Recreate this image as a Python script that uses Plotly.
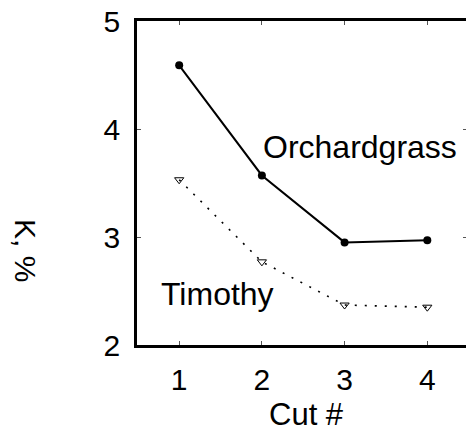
import plotly.graph_objects as go

cuts = [1, 2, 3, 4]
orchardgrass = [4.59, 3.57, 2.95, 2.97]
timothy = [3.53, 2.77, 2.37, 2.35]
x_ticks = [1, 2, 3, 4]
y_ticks = [2, 3, 4, 5]

FONT = "Liberation Sans, Arial, sans-serif"

fig = go.Figure()
fig.add_trace(go.Scatter(
    x=cuts, y=timothy, mode="lines+markers",
    line=dict(color="black", width=1.6, dash="2px,8px"),
    marker=dict(symbol="triangle-down-open", size=8, color="black", line=dict(width=1)),
    showlegend=False, cliponaxis=False))
fig.add_trace(go.Scatter(
    x=cuts, y=orchardgrass, mode="lines+markers",
    line=dict(color="black", width=2),
    marker=dict(symbol="circle", size=8, color="black"),
    showlegend=False, cliponaxis=False))

fig.update_layout(
    width=472, height=427,
    margin=dict(l=137, r=2, t=21, b=82),
    plot_bgcolor="white", paper_bgcolor="white",
    font=dict(family=FONT, color="black", size=30),
    xaxis=dict(range=[0.49, 4.48], tickvals=x_ticks, ticks="inside", ticklen=4,
               tickwidth=1, tickcolor="#555", showline=True, linecolor="black",
               linewidth=2.5, mirror="ticks", showgrid=False, zeroline=False,
               tickfont=dict(size=30), ticklabelstandoff=6, ticklabeloverflow="allow"),
    yaxis=dict(range=[2, 5], tickvals=y_ticks, ticks="inside", ticklen=4,
               tickwidth=1, tickcolor="#555", showline=True, linecolor="black",
               linewidth=2.5, mirror="ticks", showgrid=False, zeroline=False,
               tickfont=dict(size=30), ticklabelstandoff=8, ticklabeloverflow="allow"),
    annotations=[
        dict(text="Cut #", xref="paper", yref="paper", x=0.514, y=-0.216,
             xanchor="center", yanchor="middle", showarrow=False, font=dict(size=31)),
        dict(text="K, %", xref="paper", yref="paper", x=-0.336, y=0.293,
             xanchor="center", yanchor="middle", textangle=90, showarrow=False,
             font=dict(size=30)),
        dict(text="Orchardgrass", xref="paper", yref="paper", x=0.676, y=0.611,
             xanchor="center", yanchor="middle", showarrow=False, font=dict(size=32)),
        dict(text="Timothy", xref="paper", yref="paper", x=0.243, y=0.157,
             xanchor="center", yanchor="middle", showarrow=False, font=dict(size=32)),
    ],
)

fig.write_html("out.html", config={"displayModeBar": False},
               post_script="document.body.style.margin='0';document.body.style.overflow='hidden';")
